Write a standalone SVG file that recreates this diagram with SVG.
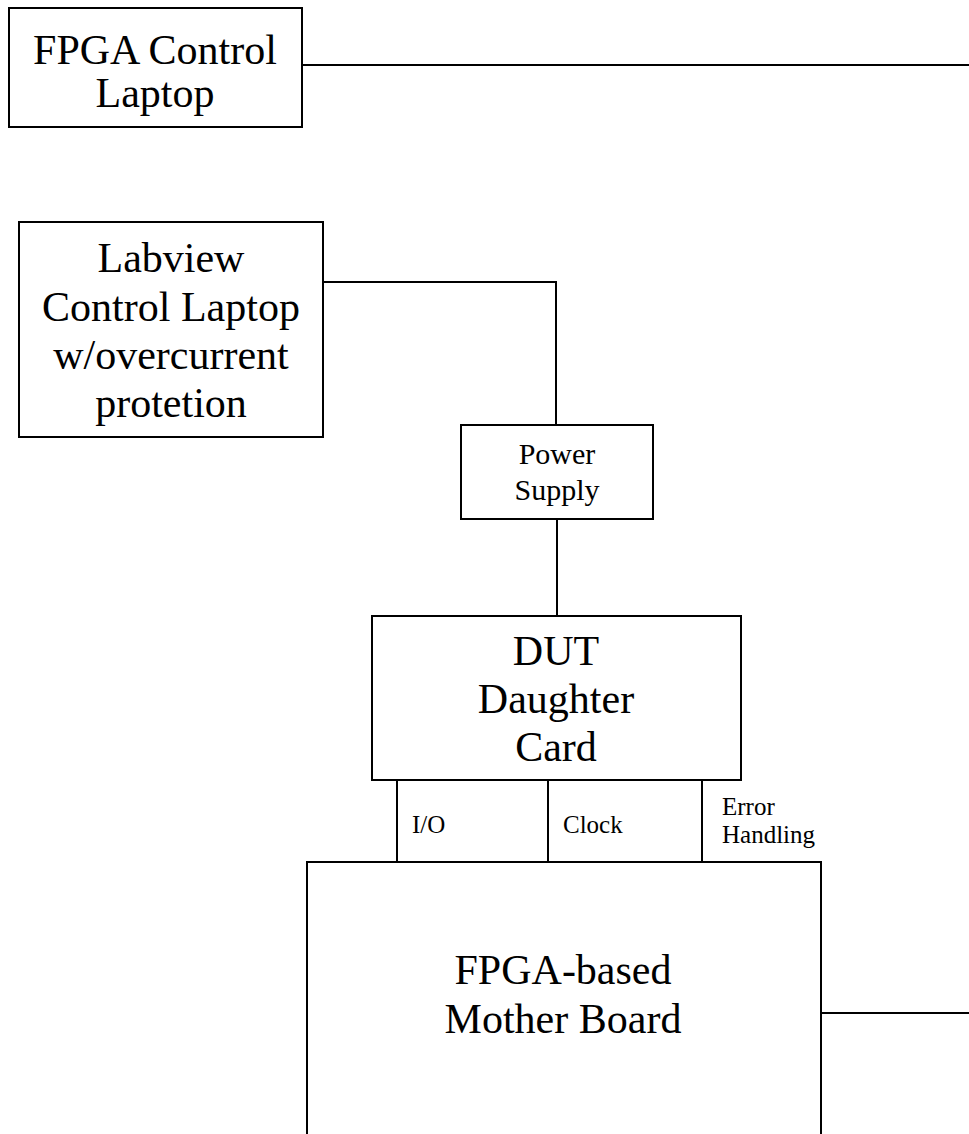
<svg xmlns="http://www.w3.org/2000/svg" width="969" height="1134" viewBox="0 0 969 1134">
<style>
.box{fill:#fff;stroke:#000;stroke-width:2}
.ln{fill:none;stroke:#000;stroke-width:2}
text{font-family:"Liberation Serif","Times New Roman",serif;fill:#000}
.big{font-size:42px;text-anchor:middle}
.mid{font-size:30px;text-anchor:middle}
.sm{font-size:25px}
</style>
<rect width="969" height="1134" fill="#fff"/>
<g id="connectors">
<path class="ln" d="M302 65 H969"/>
<path class="ln" d="M323 282 H556 V425"/>
<path class="ln" d="M557 519 V616"/>
<path class="ln" d="M397 780 V862"/>
<path class="ln" d="M548 780 V862"/>
<path class="ln" d="M702 780 V862"/>
<path class="ln" d="M821 1013 H969"/>
<text class="sm" x="412" y="833">I/O</text>
<text class="sm" x="563" y="833">Clock</text>
<text class="sm" x="722" y="815">Error</text>
<text class="sm" x="722" y="843">Handling</text>
</g>
<g id="fpga-laptop">
<rect class="box" x="9" y="8" width="293" height="119"/>
<text class="big" x="155" y="64">FPGA Control</text>
<text class="big" x="155" y="107">Laptop</text>
</g>
<g id="labview-laptop">
<rect class="box" x="19" y="222" width="304" height="215"/>
<text class="big" x="171" y="272">Labview</text>
<text class="big" x="171" y="321">Control Laptop</text>
<text class="big" x="171" y="369">w/overcurrent</text>
<text class="big" x="171" y="417">protetion</text>
</g>
<g id="power-supply">
<rect class="box" x="461" y="425" width="192" height="94"/>
<text class="mid" x="557" y="464">Power</text>
<text class="mid" x="557" y="500">Supply</text>
</g>
<g id="dut">
<rect class="box" x="372" y="616" width="369" height="164"/>
<text class="big" x="556" y="665">DUT</text>
<text class="big" x="556" y="713">Daughter</text>
<text class="big" x="556" y="761">Card</text>
</g>
<g id="motherboard">
<path class="ln" d="M307 1140 V862 H821 V1140"/>
<text class="big" x="563" y="984">FPGA-based</text>
<text class="big" x="563" y="1033">Mother Board</text>
</g>
</svg>
